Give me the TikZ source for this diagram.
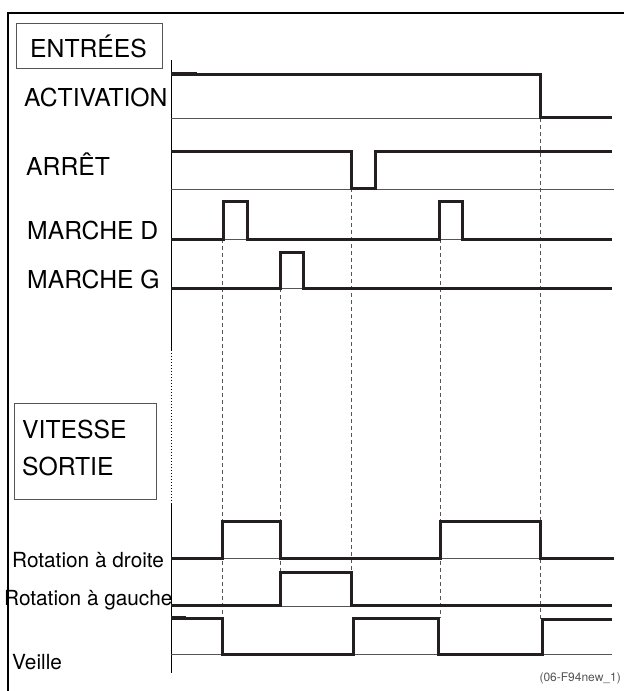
\documentclass[tikz,border=0pt]{standalone}
\usepackage{fontspec}
\setmainfont{TeX Gyre Heros}
\definecolor{sig}{HTML}{231F20}
\definecolor{thin}{HTML}{555555}
\begin{document}
\begin{tikzpicture}[x=1pt,y=-1pt,
  signal/.style={draw=sig,line width=3pt,line join=miter},
  base/.style={draw=thin,line width=0.9pt},
  guide/.style={draw=thin,line width=0.9pt,dash pattern=on 4pt off 3pt},
  biglab/.style={anchor=base west,inner sep=0pt,font=\fontsize{24.7}{28}\selectfont},
  smalllab/.style={anchor=base west,inner sep=0pt,font=\fontsize{20.8}{24}\selectfont},
  titlebox/.style={draw=thin,line width=1pt}]
\useasboundingbox (0,0) rectangle (624,691);
% frame
\draw[line width=2.5pt] (8,691) -- (8,13) -- (624,13);
% boxes
\draw[titlebox] (16,23) rectangle (162,68);
\draw[titlebox] (14,403) rectangle (156,499);
% axis
\draw[line width=1pt] (171,60) -- (171,350);
\draw[line width=0.8pt,dash pattern=on 1pt off 2pt] (171,350) -- (171,503);
\draw[line width=1pt] (171,503) -- (171,673);
% labels
\node[biglab] (lent) at (30,57) {ENTRÉES};
\node[biglab] (lact) at (24,106) {ACTIVATION};
\node[biglab] (larr) at (26,175) {ARRÊT};
\node[biglab] (lmd) at (27,239) {MARCHE D};
\node[biglab] (lmg) at (27,288) {MARCHE G};
\node[biglab] (lvit) at (22,438) {VITESSE};
\node[biglab] (lsor) at (22,475) {SORTIE};
\node[smalllab] (lrd) at (12,567) {Rotation à droite};
\node[smalllab] (lrg) at (4,605) {Rotation à gauche};
\node[smalllab] (lvei) at (12,669) {Veille};
\node[anchor=base east,inner sep=0pt,text=thin,font=\fontsize{12}{14}\selectfont] (lref) at (621,681) {(06-F94new\_1)};
% baselines
\draw[base] (171,118) -- (612,118);
\draw[base] (171,189) -- (614,189);
\draw[base] (171,239) -- (612,239);
\draw[base] (171,288) -- (612,288);
\draw[base] (171,558) -- (614,558);
\draw[base] (171,606) -- (612,606);
\draw[base] (171,654) -- (612,654);
% guides
\draw[guide] (222,239) -- (222,618);
\draw[guide] (280,288) -- (280,572);
\draw[guide] (351,188) -- (351,606);
\draw[guide] (440,239) -- (440,618);
\draw[guide] (540,118) -- (540,619);
% inputs
\draw[signal] (171,74) -- (540,74) -- (540,117) -- (612,117);
\draw[draw=sig,line width=4pt] (171,74) -- (197,74);
\draw[signal] (171,151) -- (351,151) -- (351,188) -- (375,188) -- (375,151) -- (612,151);
\draw[signal] (171,239) -- (223,239) -- (223,201) -- (247,201) -- (247,239) -- (439,239) -- (439,201) -- (462,201) -- (462,239) -- (612,239);
\draw[signal] (171,288) -- (280,288) -- (280,252) -- (303,252) -- (303,288) -- (612,288);
% outputs
\draw[signal] (171,558) -- (222,558) -- (222,521) -- (280,521) -- (280,558) -- (440,558) -- (440,521) -- (540,521) -- (540,558) -- (614,558);
\draw[signal] (171,605) -- (280,605) -- (280,572) -- (351,572) -- (351,605) -- (612,605);
\draw[signal] (171,618) -- (222,618) -- (222,654) -- (353,654) -- (353,618) -- (438,618) -- (438,654) -- (542,654) -- (542,619) -- (612,619);
\draw[draw=sig,line width=4pt] (171,618) -- (186,618);
\end{tikzpicture}
\end{document}
